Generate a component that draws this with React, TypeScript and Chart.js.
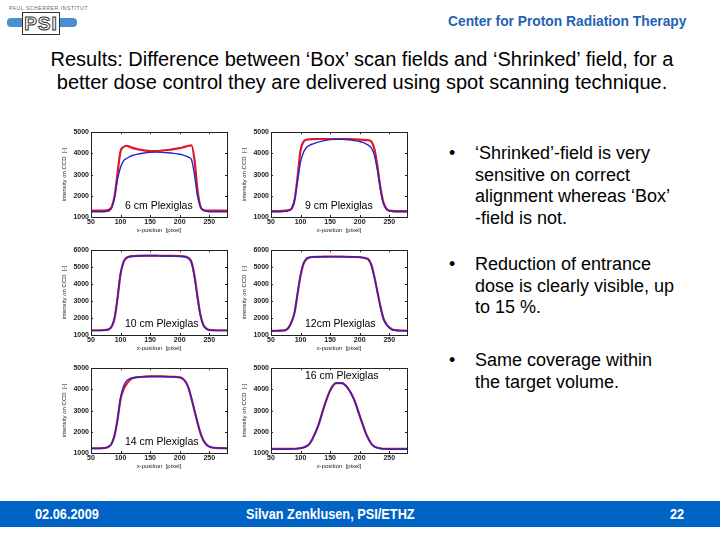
import React, { useEffect, useRef } from "react";
import { Chart, registerables } from "chart.js";

Chart.register(...registerables);

// Detector x-position (pixel) at which each profile is sampled
const POSITION_PX = [50, 60, 70, 75, 80, 85, 90, 95, 100, 105, 110, 115, 120, 130, 140, 150, 160, 170, 180, 190, 200, 205, 210, 215, 220, 225, 230, 235, 240, 245, 250, 255, 260, 270, 280];

// Intensity on CCD for the 'Shrinked' field (red) and the 'Box' field (blue)
const SHRINKED_6CM = [1300, 1300, 1300, 1310, 1340, 1480, 2000, 3100, 4100, 4300, 4360, 4320, 4260, 4190, 4140, 4110, 4110, 4130, 4160, 4200, 4250, 4280, 4320, 4360, 4380, 3700, 2300, 1500, 1330, 1300, 1300, 1300, 1300, 1300, 1300];
const BOX_6CM = [1250, 1250, 1250, 1260, 1290, 1420, 1950, 2800, 3350, 3650, 3760, 3840, 3900, 3970, 4020, 4050, 4060, 4050, 4030, 4000, 3960, 3930, 3880, 3820, 3700, 3000, 2000, 1500, 1320, 1270, 1250, 1250, 1250, 1250, 1250];

const SHRINKED_9CM = [1280, 1280, 1290, 1300, 1330, 1400, 1800, 2900, 4150, 4550, 4640, 4660, 4670, 4680, 4680, 4680, 4680, 4680, 4670, 4660, 4650, 4640, 4630, 4620, 4550, 4200, 3400, 2400, 1700, 1400, 1300, 1290, 1280, 1280, 1280];
const BOX_9CM = [1250, 1250, 1260, 1270, 1300, 1400, 1850, 2700, 3600, 4050, 4280, 4380, 4440, 4530, 4600, 4650, 4670, 4670, 4650, 4610, 4560, 4520, 4460, 4380, 4250, 3900, 3200, 2300, 1650, 1380, 1290, 1260, 1250, 1250, 1250];

const SHRINKED_10CM = [1280, 1280, 1290, 1300, 1340, 1500, 2000, 3200, 4600, 5300, 5550, 5620, 5650, 5670, 5680, 5680, 5680, 5670, 5660, 5660, 5650, 5640, 5620, 5540, 5300, 4500, 3300, 2200, 1600, 1380, 1300, 1290, 1280, 1280, 1280];
const BOX_10CM = [1260, 1260, 1270, 1290, 1330, 1500, 2050, 3250, 4650, 5300, 5540, 5610, 5640, 5660, 5670, 5670, 5670, 5660, 5660, 5650, 5640, 5630, 5600, 5500, 5250, 4400, 3200, 2150, 1580, 1370, 1290, 1270, 1260, 1260, 1260];

const SHRINKED_12CM = [1240, 1250, 1270, 1300, 1450, 1800, 2350, 3450, 4500, 5200, 5480, 5570, 5600, 5610, 5620, 5620, 5620, 5620, 5610, 5600, 5590, 5570, 5530, 5450, 5100, 4400, 3550, 2700, 2000, 1650, 1450, 1330, 1290, 1260, 1250];
const BOX_12CM = [1250, 1250, 1260, 1290, 1430, 1780, 2350, 3500, 4550, 5230, 5500, 5580, 5600, 5610, 5610, 5620, 5620, 5610, 5600, 5600, 5590, 5560, 5520, 5430, 5080, 4380, 3520, 2650, 1960, 1620, 1430, 1320, 1280, 1260, 1250];

const SHRINKED_14CM = [1220, 1220, 1230, 1250, 1300, 1450, 1850, 2600, 3550, 4000, 4250, 4420, 4520, 4580, 4600, 4610, 4610, 4610, 4600, 4590, 4570, 4510, 4360, 4060, 3560, 3000, 2450, 1950, 1600, 1400, 1300, 1260, 1240, 1230, 1220];
const BOX_14CM = [1220, 1220, 1230, 1250, 1300, 1450, 1850, 2600, 3600, 4150, 4400, 4500, 4550, 4580, 4600, 4610, 4610, 4610, 4600, 4590, 4570, 4500, 4350, 4050, 3550, 3000, 2450, 1950, 1600, 1400, 1300, 1260, 1240, 1230, 1220];

const SHRINKED_16CM = [1190, 1190, 1190, 1190, 1190, 1200, 1200, 1210, 1230, 1260, 1320, 1430, 1660, 2300, 3200, 3950, 4300, 4300, 4060, 3560, 2760, 2350, 1960, 1660, 1430, 1300, 1250, 1220, 1200, 1200, 1190, 1190, 1190, 1190, 1190];
const BOX_16CM = [1180, 1180, 1180, 1180, 1190, 1190, 1200, 1210, 1230, 1260, 1320, 1420, 1650, 2300, 3200, 3950, 4300, 4290, 4050, 3550, 2750, 2350, 1950, 1650, 1420, 1300, 1240, 1210, 1200, 1190, 1180, 1180, 1180, 1180, 1180];

const PANEL_LABELS = ["6 cm Plexiglas", "9 cm Plexiglas", "10 cm Plexiglas", "12cm Plexiglas", "14 cm Plexiglas", "16 cm Plexiglas"];
const Y_MAXIMA = [5000, 5000, 6000, 6000, 5000, 5000];
const X_MIN = 50;
const X_MAX = 280;
const Y_MIN = 1000;

const RED = "#e3162b";
const BLUE = "#2626c4";

// Plot geometry (chart area size and offsets of the canvas around it)
const PLOT_W = 136;
const PLOT_H = 85;
const AXIS_W = 30;
const AXIS_H = 17;
const PAD_TOP = 6;
const PAD_RIGHT = 6;

const SANS = "'Liberation Sans', Arial, Helvetica, sans-serif";

type PanelProps = {
  shrinked: number[];
  box: number[];
  yMax: number;
  label: string;
  left: number;
  top: number;
  labelAtTop?: boolean;
};

function Panel({ shrinked, box, yMax, label, left, top, labelAtTop }: PanelProps) {
  const ref = useRef<HTMLCanvasElement>(null);

  useEffect(() => {
    const framePlugin = {
      id: "matlabFrame",
      afterDraw(chart: any) {
        const { ctx, chartArea } = chart;
        const { left: l, right: r, top: t, bottom: b } = chartArea;
        ctx.save();
        ctx.strokeStyle = "#222";
        ctx.lineWidth = 1;
        ctx.strokeRect(Math.round(l) + 0.5, Math.round(t) + 0.5, Math.round(r - l), Math.round(b - t));
        // inward tick marks on all four sides
        const xs = chart.scales.x;
        const ys = chart.scales.y;
        ctx.beginPath();
        xs.ticks.forEach((tk: any) => {
          const px = Math.round(xs.getPixelForValue(tk.value)) + 0.5;
          ctx.moveTo(px, b);
          ctx.lineTo(px, b - 2);
          ctx.moveTo(px, t);
          ctx.lineTo(px, t + 2);
        });
        ys.ticks.forEach((tk: any) => {
          const py = Math.round(ys.getPixelForValue(tk.value)) + 0.5;
          ctx.moveTo(l, py);
          ctx.lineTo(l + 2, py);
          ctx.moveTo(r, py);
          ctx.lineTo(r - 2, py);
        });
        ctx.stroke();
        // depth annotation
        ctx.fillStyle = "#000";
        ctx.font = `10.5px ${SANS}`;
        ctx.textBaseline = "middle";
        ctx.textAlign = "left";
        const ty = labelAtTop ? t + 8 : b - 11;
        ctx.fillText(label, l + 34, ty);
        ctx.restore();
      },
    };

    const tickFont = { size: 7, family: SANS, weight: "bold" };
    const titleFont = { size: 6, family: SANS };
    const plainNumber = (v: any) => String(v);

    const chart = new Chart(ref.current as HTMLCanvasElement, {
      type: "line",
      data: {
        datasets: [
          {
            label: "Box field",
            data: POSITION_PX.map((x, i) => ({ x, y: box[i] })),
            borderColor: BLUE,
            borderWidth: 1.4,
            pointRadius: 0,
            cubicInterpolationMode: "monotone",
            fill: false,
          },
          {
            label: "Shrinked field",
            data: POSITION_PX.map((x, i) => ({ x, y: shrinked[i] })),
            borderColor: RED,
            borderWidth: 2.2,
            pointRadius: 0,
            cubicInterpolationMode: "monotone",
            fill: false,
          },
        ],
      },
      options: {
        animation: false,
        responsive: false,
        devicePixelRatio: 1,
        layout: { padding: { top: PAD_TOP, right: PAD_RIGHT, left: 0, bottom: 0 } },
        plugins: { legend: { display: false }, tooltip: { enabled: false } },
        scales: {
          x: {
            type: "linear",
            min: X_MIN,
            max: X_MAX,
            ticks: { stepSize: 50, includeBounds: false, font: tickFont, color: "#222", padding: 1, maxRotation: 0, autoSkip: false, callback: plainNumber },
            grid: { display: false, drawTicks: false },
            border: { display: false },
            title: { display: true, text: "x-position  [pixel]", font: titleFont, color: "#222", padding: 0 },
            afterFit: (s: any) => {
              s.height = AXIS_H;
            },
          },
          y: {
            type: "linear",
            min: Y_MIN,
            max: yMax,
            ticks: { stepSize: 1000, includeBounds: false, font: tickFont, color: "#222", padding: 2, autoSkip: false, callback: plainNumber },
            grid: { display: false, drawTicks: false },
            border: { display: false },
            title: { display: true, text: "intensity on CCD  [-]", font: titleFont, color: "#222", padding: 0 },
            afterFit: (s: any) => {
              s.width = AXIS_W;
            },
          },
        },
      } as any,
      plugins: [framePlugin],
    });
    return () => chart.destroy();
  }, [shrinked, box, yMax, label, labelAtTop]);

  return (
    <canvas
      ref={ref}
      width={AXIS_W + PLOT_W + PAD_RIGHT}
      height={PAD_TOP + PLOT_H + AXIS_H}
      style={{ position: "absolute", left: left - AXIS_W, top: top - PAD_TOP }}
    />
  );
}

function Bullet({ top, lines }: { top: number; lines: string[] }) {
  return (
    <div style={{ position: "absolute", left: 449, top, font: `18px ${SANS}`, lineHeight: "21.5px", color: "#000", whiteSpace: "nowrap" }}>
      <span style={{ position: "absolute", left: 0, top: 0 }}>•</span>
      <div style={{ position: "absolute", left: 26, top: 0 }}>
        {lines.map((l, i) => (
          <div key={i}>{l}</div>
        ))}
      </div>
    </div>
  );
}

const narrowSpan = (left: number, text: string) => (
  <span style={{ position: "absolute", left, top: 0, transform: "scaleX(0.85)", transformOrigin: "left center" }}>{text}</span>
);

export default function App() {
  return (
    <div style={{ position: "fixed", left: 0, top: 0, width: 720, height: 540, background: "#fff", overflow: "hidden" }}>
      {/* institute logo */}
      <div style={{ position: "absolute", left: 9, top: 5, font: `5px ${SANS}`, letterSpacing: "0.6px", color: "#666" }}>PAUL SCHERRER INSTITUT</div>
      <div style={{ position: "absolute", left: 7, top: 18, width: 70, height: 9, borderRadius: 4, background: "#4a8fd0" }} />
      <div style={{ position: "absolute", left: 22, top: 12, width: 36, height: 21, background: "#fff", border: "1px solid #333", font: `bold 19px ${SANS}`, lineHeight: "21px", color: "#fff", textAlign: "center", WebkitTextStroke: "1px #333", letterSpacing: "1px" }}>PSI</div>

      <div style={{ position: "absolute", left: 448, top: 12, font: `bold 15px ${SANS}`, color: "#1f63b5", whiteSpace: "nowrap", transform: "scaleX(0.92)", transformOrigin: "left center" }}>Center for Proton Radiation Therapy</div>

      <div style={{ position: "absolute", left: 0, top: 48, width: 724, textAlign: "center", font: `20px ${SANS}`, lineHeight: "23px", color: "#000", whiteSpace: "nowrap" }}>
        <div>Results: Difference between ‘Box’ scan fields and ‘Shrinked’ field, for a</div>
        <div>better dose control they are delivered using spot scanning technique.</div>
      </div>

      <Panel shrinked={SHRINKED_6CM} box={BOX_6CM} yMax={Y_MAXIMA[0]} label={PANEL_LABELS[0]} left={91} top={132} />
      <Panel shrinked={SHRINKED_9CM} box={BOX_9CM} yMax={Y_MAXIMA[1]} label={PANEL_LABELS[1]} left={271} top={132} />
      <Panel shrinked={SHRINKED_10CM} box={BOX_10CM} yMax={Y_MAXIMA[2]} label={PANEL_LABELS[2]} left={91} top={250} />
      <Panel shrinked={SHRINKED_12CM} box={BOX_12CM} yMax={Y_MAXIMA[3]} label={PANEL_LABELS[3]} left={271} top={250} />
      <Panel shrinked={SHRINKED_14CM} box={BOX_14CM} yMax={Y_MAXIMA[4]} label={PANEL_LABELS[4]} left={91} top={368} />
      <Panel shrinked={SHRINKED_16CM} box={BOX_16CM} yMax={Y_MAXIMA[5]} label={PANEL_LABELS[5]} left={271} top={368} labelAtTop />

      <Bullet top={143} lines={["‘Shrinked’-field is very", "sensitive on correct", "alignment whereas ‘Box’", "-field is not."]} />
      <Bullet top={254} lines={["Reduction of entrance", "dose is clearly visible, up", "to 15 %."]} />
      <Bullet top={350} lines={["Same coverage within", "the target volume."]} />

      <div style={{ position: "absolute", left: 0, top: 501, width: 720, height: 26, background: "#0063c6", color: "#fff", font: `bold 15px ${SANS}`, lineHeight: "26px", whiteSpace: "nowrap" }}>
        {narrowSpan(35, "02.06.2009")}
        {narrowSpan(246, "Silvan Zenklusen, PSI/ETHZ")}
        {narrowSpan(670, "22")}
      </div>
    </div>
  );
}
